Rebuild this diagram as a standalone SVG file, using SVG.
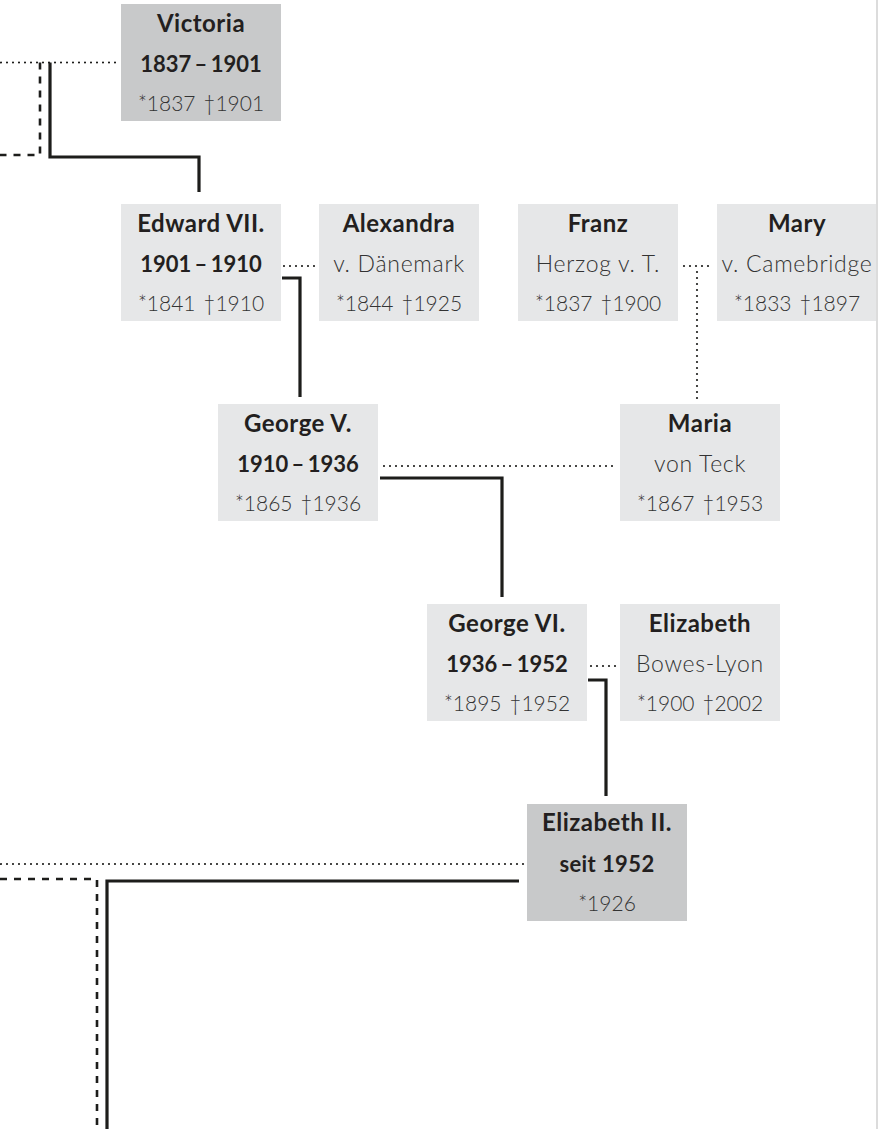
<svg xmlns="http://www.w3.org/2000/svg" width="878" height="1129" viewBox="0 0 878 1129">
<style>
.bg{fill:#ffffff}
.box{fill:#e6e7e8}
.box.main{fill:#c8c9ca}
.nm{font-family:Lato,"Liberation Sans",sans-serif;font-weight:700;font-size:24px;letter-spacing:0.5px;fill:#231f20;text-anchor:middle}
.yr{font-family:Lato,"Liberation Sans",sans-serif;font-weight:700;font-size:22px;word-spacing:-2px;fill:#231f20;text-anchor:middle}
.yr2{font-family:Lato,"Liberation Sans",sans-serif;font-weight:700;font-size:22px;letter-spacing:0.4px;fill:#231f20;text-anchor:middle}
.sub{font-family:Lato,"Liberation Sans",sans-serif;font-weight:300;font-size:23px;letter-spacing:0.7px;fill:#333333;text-anchor:middle}
.dt{font-family:Lato,"Liberation Sans",sans-serif;font-weight:300;font-size:21px;word-spacing:2px;fill:#333333;text-anchor:middle}
.solid{fill:none;stroke:#1d1d1b;stroke-width:3.2}
.dash{fill:none;stroke:#1d1d1b;stroke-width:2.6;stroke-dasharray:7 7}
.dot{fill:none;stroke:#1d1d1b;stroke-width:2.2;stroke-linecap:round;stroke-dasharray:0 6}
</style>
<rect class="bg" x="0" y="0" width="878" height="1129"/>

<g id="connectors">
<path class="dot" d="M1,62.5 H119"/>
<path class="dash" d="M40,62.5 V155 H0"/>
<path class="solid" d="M50,62.5 V157 H199 V192"/>
<path class="dot" d="M284,266 H315"/>
<path class="solid" d="M282,278 H300 V397"/>
<path class="dot" d="M684,266 H714"/>
<path class="dot" d="M697,272 V402"/>
<path class="dot" d="M384,466 H618"/>
<path class="solid" d="M380,478 H502 V597"/>
<path class="dot" d="M591,666 H617"/>
<path class="solid" d="M588,680 H606 V796"/>
<path class="dot" d="M1,864 H524"/>
<path class="dash" d="M0,879 H97 V1129"/>
<path class="solid" d="M519,881 H107 V1129"/>
</g>

<g id="victoria">
<rect class="box main" x="121" y="4" width="160" height="117"/>
<text class="nm" x="201" y="32">Victoria</text>
<text class="yr" x="201" y="72">1837 – 1901</text>
<text class="dt" x="201" y="111">*1837 †1901</text>
</g>

<g id="edward7">
<rect class="box" x="121" y="204" width="160" height="117"/>
<text class="nm" x="201" y="232">Edward VII.</text>
<text class="yr" x="201" y="272">1901 – 1910</text>
<text class="dt" x="201" y="311">*1841 †1910</text>
</g>

<g id="alexandra">
<rect class="box" x="319" y="204" width="160" height="117"/>
<text class="nm" x="399" y="232">Alexandra</text>
<text class="sub" x="399" y="272">v. Dänemark</text>
<text class="dt" x="399" y="311">*1844 †1925</text>
</g>

<g id="franz">
<rect class="box" x="518" y="204" width="160" height="117"/>
<text class="nm" x="598" y="232">Franz</text>
<text class="sub" x="598" y="272">Herzog v. T.</text>
<text class="dt" x="598" y="311">*1837 †1900</text>
</g>

<g id="mary">
<rect class="box" x="717" y="204" width="160" height="117"/>
<text class="nm" x="797" y="232">Mary</text>
<text class="sub" x="797" y="272">v. Camebridge</text>
<text class="dt" x="797" y="311">*1833 †1897</text>
</g>

<g id="george5">
<rect class="box" x="218" y="404" width="160" height="117"/>
<text class="nm" x="298" y="432">George V.</text>
<text class="yr" x="298" y="472">1910 – 1936</text>
<text class="dt" x="298" y="511">*1865 †1936</text>
</g>

<g id="maria">
<rect class="box" x="620" y="404" width="160" height="117"/>
<text class="nm" x="700" y="432">Maria</text>
<text class="sub" x="700" y="472">von Teck</text>
<text class="dt" x="700" y="511">*1867 †1953</text>
</g>

<g id="george6">
<rect class="box" x="427" y="604" width="160" height="117"/>
<text class="nm" x="507" y="632">George VI.</text>
<text class="yr" x="507" y="672">1936 – 1952</text>
<text class="dt" x="507" y="711">*1895 †1952</text>
</g>

<g id="elizabeth-bl">
<rect class="box" x="620" y="604" width="160" height="117"/>
<text class="nm" x="700" y="632">Elizabeth</text>
<text class="sub" x="700" y="672">Bowes-Lyon</text>
<text class="dt" x="700" y="711">*1900 †2002</text>
</g>

<g id="elizabeth2">
<rect class="box main" x="527" y="804" width="160" height="117"/>
<text class="nm" x="607" y="831">Elizabeth II.</text>
<text class="yr2" x="607" y="872">seit 1952</text>
<text class="dt" x="607" y="911">*1926</text>
</g>

<line x1="877" y1="0" x2="877" y2="1129" stroke="#dcdcdc" stroke-width="2"/>
</svg>
